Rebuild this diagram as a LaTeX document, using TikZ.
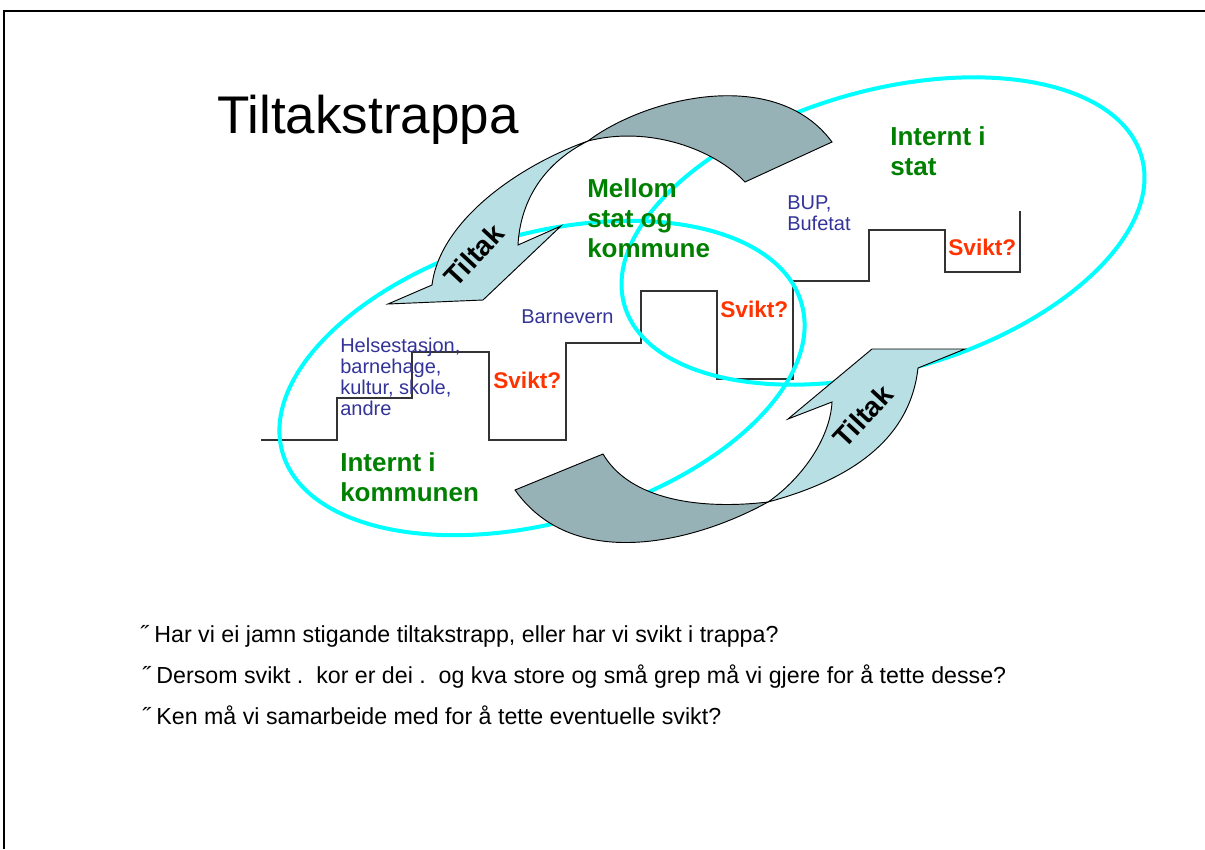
\documentclass[tikz,border=0pt]{standalone}
\usepackage{fontspec}
\setmainfont{Liberation Sans}
\definecolor{ringcyan}{HTML}{00FFFF}
\definecolor{arrowdark}{HTML}{96B2B6}
\definecolor{arrowlight}{HTML}{B8DFE3}
\definecolor{levelgreen}{HTML}{008000}
\definecolor{servblue}{HTML}{333399}
\definecolor{sviktred}{HTML}{FF3300}
\tikzset{
  ring/.style={draw=ringcyan, line width=3pt},
  stair/.style={draw=black!80, line width=1.1pt},
  backband/.style={fill=arrowdark, draw=black, line width=0.7pt},
  headband/.style={fill=arrowlight, draw=black, line width=0.7pt},
  area/.style={anchor=base west, align=left, inner sep=0pt, text=levelgreen,
    font=\fontsize{19.5}{22.5}\selectfont\bfseries},
  serv/.style={anchor=base west, align=left, inner sep=0pt, text=servblue,
    font=\fontsize{15}{15.75}\selectfont},
  svikt/.style={anchor=base west, inner sep=0pt, text=sviktred,
    font=\fontsize{17}{20}\selectfont\bfseries},
  tiltak/.style={rotate=47, inner sep=0pt, font=\fontsize{21}{24}\selectfont\bfseries},
  question/.style={anchor=base west, inner sep=0pt, font=\fontsize{17.4}{20}\selectfont}
}

\begin{document}
\begin{tikzpicture}[x=0.75pt, y=-0.75pt]
  \useasboundingbox (0,0) rectangle (1205,849);
  \draw[line width=1.6pt] (4,849) -- (4,11) -- (1205,11);

  \node[anchor=base west, inner sep=0pt, font=\fontsize{39.75}{45}\selectfont] (title) at (217,133) {Tiltakstrappa};

  \draw[stair] (261,440) -| (337,398) -| (412,352) -| (489,440) -| (566,343) -| (641,291)
    -| (717,379) -| (793,281) -| (869,230) -| (945,272) -| (1020,211);

  \draw[ring, shift={(542,378)}, rotate=16] (0,0) ellipse [x radius=270, y radius=144];
  \draw[ring, shift={(883,231)}, rotate=16] (0,0) ellipse [x radius=269, y radius=140];

  \path[backband] (588,141) .. controls (645,98) and (775,65) .. (832,142) -- (745,182)
    .. controls (715,150) and (650,125) .. (588,141) -- cycle;
  \path[headband] (588,141) .. controls (520,165) and (440,220) .. (432,285) -- (388,304)
    -- (483,300) -- (561,226) -- (518,245) .. controls (520,205) and (540,165) .. (588,141) -- cycle;

  \path[backband] (515,490) -- (603,454) .. controls (630,500) and (700,510) .. (768,502)
    .. controls (700,540) and (575,575) .. (515,490) -- cycle;
  \path[headband] (768,502) .. controls (850,480) and (910,440) .. (918,368) -- (965,349)
    -- (872,349) -- (788,419) -- (832,402) .. controls (830,440) and (800,480) .. (768,502) -- cycle;

  \node[tiltak] (tiltak1) at (474,255) {Tiltak};
  \node[tiltak] (tiltak2) at (863,416) {Tiltak};

  \node[area] (mellom) at (587,257) {Mellom\\stat og\\kommune};
  \node[area] (stat) at (890,175) {Internt i\\stat};
  \node[area] (kommune) at (340,501) {Internt i\\kommunen};

  \node[serv] (helse) at (340,415) {Helsestasjon,\\barnehage,\\kultur, skole,\\andre};
  \node[serv] (barnevern) at (521,323) {Barnevern};
  \node[serv] (bup) at (787,230) {BUP,\\Bufetat};

  \node[svikt] (svikt1) at (493,388) {Svikt?};
  \node[svikt] (svikt2) at (720,317) {Svikt?};
  \node[svikt] (svikt3) at (948,255) {Svikt?};

  \node[question] (q1) at (140,642) {˝ Har vi ei jamn stigande tiltakstrapp, eller har vi svikt i trappa?};
  \node[question] (q2) at (142,683) {˝ Dersom svikt .\ \ kor er dei .\ \ og kva store og små grep må vi gjere for å tette desse?};
  \node[question] (q3) at (142,724) {˝ Ken må vi samarbeide med for å tette eventuelle svikt?};
\end{tikzpicture}
\end{document}
